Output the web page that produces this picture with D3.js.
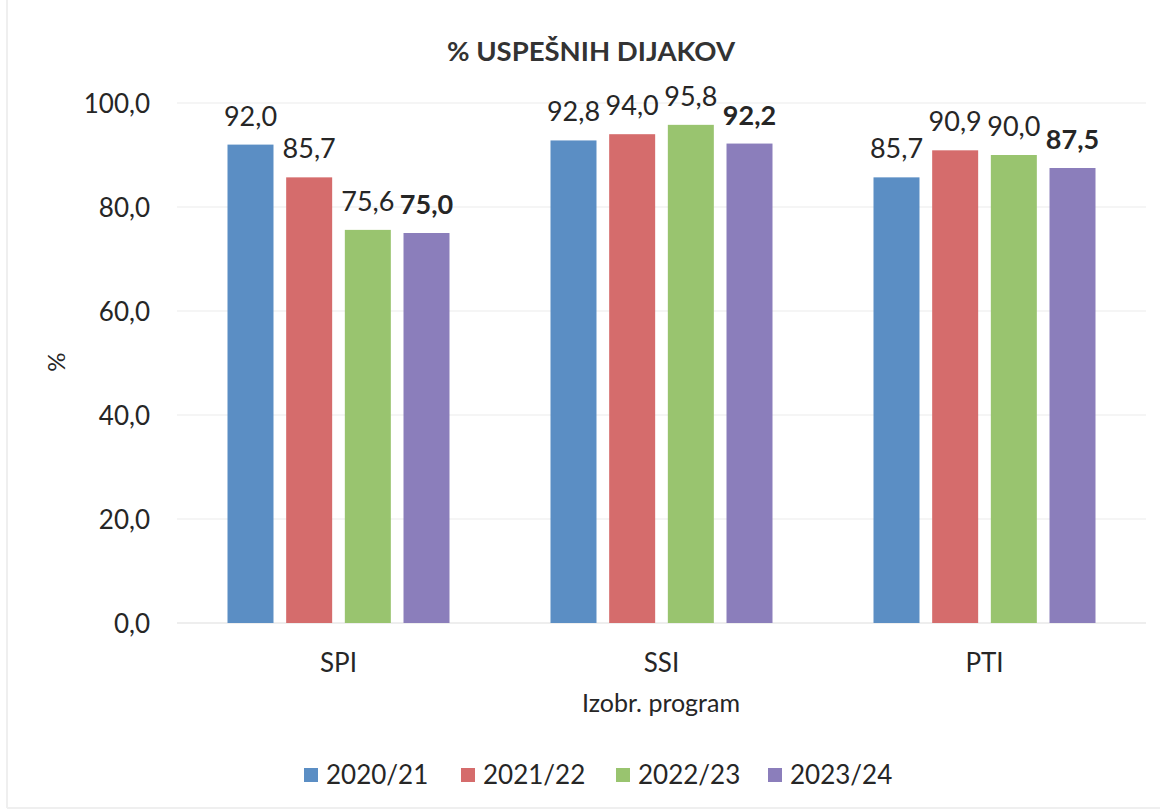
<!DOCTYPE html>
<html><head><meta charset="utf-8">
<script src="https://cdn.jsdelivr.net/npm/d3@7"></script>
<style>html,body{margin:0;padding:0;background:#fff;}svg{display:block;font-family:Lato,"Open Sans",sans-serif;}</style>
</head><body>
<svg id="chart" width="1160" height="812"></svg>
<script>
const categories = ["SPI", "SSI", "PTI"];
const seriesNames = ["2020/21", "2021/22", "2022/23", "2023/24"];
const s2020 = [92.0, 92.8, 85.7];
const s2021 = [85.7, 94.0, 90.9];
const s2022 = [75.6, 95.8, 90.0];
const s2023 = [75.0, 92.2, 87.5];
const yTicks = [0, 20, 40, 60, 80, 100];
const colors = ["#5b8ec4", "#d56c6c", "#99c46f", "#8b7ebb"];
const titleText = "% USPEŠNIH DIJAKOV";
const xTitle = "Izobr. program";
const yTitle = "%";

const seriesValues = [s2020, s2021, s2022, s2023];
const svg = d3.select("#chart");
const textColor = "#262626";
const fmt = v => v.toFixed(1).replace(".", ",");

// faint chart border
svg.append("line").attr("x1",7).attr("x2",7).attr("y1",0).attr("y2",808).attr("stroke","#efefef").attr("stroke-width",2);
svg.append("line").attr("x1",7).attr("x2",1160).attr("y1",808).attr("y2",808).attr("stroke","#efefef").attr("stroke-width",2);

const y = d3.scaleLinear().domain([0, 100]).range([623, 103]);
const x0 = d3.scaleBand().domain(categories).range([177, 1146]).padding(0);
const groupW = 222;
const x1 = d3.scaleBand().domain(seriesNames).range([0, groupW]).paddingInner(0.216).paddingOuter(0);

// gridlines
svg.append("g").selectAll("line").data(yTicks).join("line")
  .attr("x1", 177).attr("x2", 1146)
  .attr("y1", d => y(d)).attr("y2", d => y(d))
  .attr("stroke", d => d === 0 ? "#e8e8e8" : "#f2f2f2").attr("stroke-width", 1.5);

// y axis labels
const yAxis = d3.axisLeft(y).tickValues(yTicks).tickFormat(fmt).tickSize(0).tickPadding(0);
const ya = svg.append("g").attr("transform", "translate(150,0)").call(yAxis);
ya.select(".domain").remove();
ya.selectAll("text").attr("font-size", 26).attr("fill", textColor).attr("font-family", "Lato").attr("dy", "0.35em");

// x axis labels
const xAxis = d3.axisBottom(x0).tickSize(0).tickPadding(0);
const xa = svg.append("g").attr("transform", "translate(0,672)").call(xAxis);
xa.select(".domain").remove();
xa.selectAll("text").attr("font-size", 26).attr("fill", textColor).attr("font-family", "Lato").attr("dy", 0).attr("y", 0);

// bars
const off = (x0.bandwidth() - groupW) / 2;
const groups = svg.append("g").selectAll("g").data(categories).join("g")
  .attr("transform", c => `translate(${x0(c) + off},0)`);

groups.each(function(c, ci) {
  const g = d3.select(this);
  seriesNames.forEach((s, si) => {
    const v = seriesValues[si][ci];
    g.append("rect")
      .attr("x", x1(s)).attr("width", x1.bandwidth())
      .attr("y", y(v)).attr("height", y(0) - y(v))
      .attr("fill", colors[si]);
  });
  seriesNames.forEach((s, si) => {
    const v = seriesValues[si][ci];
    g.append("text")
      .attr("x", x1(s) + x1.bandwidth() / 2)
      .attr("y", y(v) - 19)
      .attr("text-anchor", "middle")
      .attr("font-size", 27)
      .attr("font-weight", si === 3 ? "bold" : "normal")
      .attr("fill", textColor)
      .text(fmt(v));
  });
});

// title
svg.append("text").attr("x", 591).attr("y", 61).attr("text-anchor", "middle")
  .attr("font-size", 27.5).attr("font-weight", "bold").attr("fill", "#333")
  .text(titleText);

// axis titles
svg.append("text").attr("x", 661).attr("y", 712).attr("text-anchor", "middle")
  .attr("font-size", 25).attr("fill", textColor).text(xTitle);
svg.append("text").attr("transform", "translate(65,362) rotate(-90)").attr("text-anchor", "middle")
  .attr("font-size", 24).attr("fill", textColor).text(yTitle);

// legend
const legendX = [304, 461, 616, 768];
const lg = svg.append("g").selectAll("g").data(seriesNames).join("g")
  .attr("transform", (d, i) => `translate(${legendX[i]},775)`);
lg.append("rect").attr("x", 0).attr("y", -7).attr("width", 14).attr("height", 14)
  .attr("fill", (d, i) => colors[i]);
lg.append("text").attr("x", 22).attr("y", 0).attr("dy", "0.35em")
  .attr("font-size", 26).attr("fill", textColor).text(d => d);
</script>
</body></html>
